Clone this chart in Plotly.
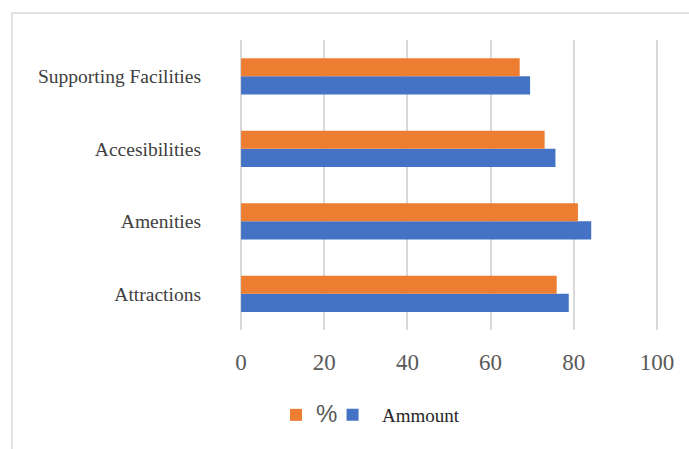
import plotly.graph_objects as go

categories = ["Attractions", "Amenities", "Accesibilities", "Supporting Facilities"]
amount_values = [78.8, 84.2, 75.6, 69.5]
percent_values = [75.9, 81.0, 73.0, 67.0]
x_ticks = [0, 20, 40, 60, 80, 100]

fig = go.Figure()
fig.add_trace(go.Bar(
    y=categories, x=amount_values, orientation="h",
    name="<span style='font-family:Liberation Serif;font-size:19px;color:#262626'>&nbsp;&nbsp;Ammount</span>",
    marker=dict(color="#4472C4", line=dict(width=0)),
    legend="legend2",
))
fig.add_trace(go.Bar(
    y=categories, x=percent_values, orientation="h",
    name="<span style='font-family:Liberation Sans;font-size:24px;color:#595959'>%</span>",
    marker=dict(color="#ED7D31", line=dict(width=0)),
    legend="legend",
))

L, R, T, B = 239, 30.3, 40, 119
W, H = 689, 449
pw, ph = W - L - R, H - T - B

def px(xp):
    return (xp - L) / pw

def py(yp):
    return (H - B - yp) / ph

fig.update_layout(
    width=W, height=H,
    margin=dict(l=L, r=R, t=T, b=B),
    paper_bgcolor="white", plot_bgcolor="white",
    barmode="group", bargap=0.5, bargroupgap=0,
    showlegend=True,
    legend=dict(orientation="h", x=px(276), y=py(415),
                xanchor="left", yanchor="middle", font=dict(size=19),
                itemwidth=30, bgcolor="rgba(0,0,0,0)",
                borderwidth=0),
    legend2=dict(orientation="h", x=px(332.5), y=py(415),
                 xanchor="left", yanchor="middle", font=dict(size=19),
                 itemwidth=30, bgcolor="rgba(0,0,0,0)",
                 borderwidth=0),
    xaxis=dict(range=[-0.5, 100.5], tickvals=x_ticks, showgrid=True, gridcolor="#d9d9d9",
               gridwidth=1.5, zeroline=True, zerolinecolor="#d9d9d9", zerolinewidth=1.5,
               showline=False, ticks="",
               ticklabelstandoff=16,
               tickfont=dict(family="Liberation Serif", size=23, color="#595959")),
    yaxis=dict(categoryorder="array", categoryarray=categories, showgrid=False,
               zeroline=False, showline=False, ticks="", ticklabelstandoff=37,
               tickfont=dict(family="Liberation Serif", size=19.5, color="#404040")),
    shapes=[
        dict(type="line", xref="paper", yref="paper", x0=px(12), x1=px(689),
             y0=py(13), y1=py(13), line=dict(color="#d9d9d9", width=1.5)),
        dict(type="line", xref="paper", yref="paper", x0=px(12), x1=px(12),
             y0=py(13), y1=py(449), line=dict(color="#d9d9d9", width=1.5)),
    ],
)
fig.write_html("out.html")
